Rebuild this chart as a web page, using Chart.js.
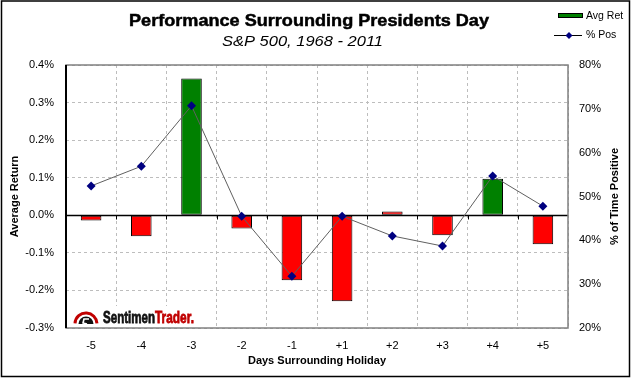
<!DOCTYPE html>
<html><head><meta charset="utf-8">
<script src="https://cdn.jsdelivr.net/npm/chart.js@4/dist/chart.umd.min.js"></script>
<style>html,body{margin:0;padding:0;background:#fff;}#wrap{width:631px;height:379px;}</style>
</head><body><div id="wrap"><canvas id="c" width="631" height="379"></canvas></div>
<script>
const days = ['-5','-4','-3','-2','-1','+1','+2','+3','+4','+5'];
const avgRet = [-0.014,-0.056,0.364,-0.035,-0.173,-0.229,0.010,-0.053,0.097,-0.077];
const pctPos = [52.4,56.9,70.7,45.5,31.8,45.5,41.0,38.7,54.7,47.8];
const titleText = 'Performance Surrounding Presidents Day';
const subtitleText = 'S&P 500, 1968 - 2011';
const xTitle = 'Days Surrounding Holiday';
const yTitle = 'Average Return';
const y1Title = '% of Time Positive';
const legendBar = 'Avg Ret';
const legendLine = '% Pos';

// bar colours as shown in the picture (green / red per bar)
const GREEN = '#008000', RED = '#ff0000';
const barColors = [RED, RED, GREEN, RED, RED, RED, RED, RED, GREEN, RED];

const FONT = '"Liberation Sans", Arial, sans-serif';

function fitText(ctx, txt, x, y, w, stroke) {
  const m = ctx.measureText(txt).width;
  ctx.save();
  ctx.translate(x, y);
  ctx.scale(w / m, 1);
  ctx.fillText(txt, 0, 0);
  if (stroke) { ctx.lineWidth = stroke; ctx.strokeStyle = ctx.fillStyle; ctx.strokeText(txt, 0, 0); }
  ctx.restore();
}

const deco = {
  id: 'deco',
  beforeDraw(chart) {
    const ctx = chart.ctx;
    ctx.save();
    ctx.fillStyle = '#fff';
    ctx.fillRect(0, 0, chart.width, chart.height);
    ctx.restore();
  },
  beforeDatasetsDraw(chart) {
    const ctx = chart.ctx, a = chart.chartArea;
    const x = chart.scales.x, y = chart.scales.y;
    const y0 = Math.round(y.getPixelForValue(0)) + 0.5;
    ctx.save();
    ctx.fillStyle = '#fff';
    ctx.fillRect(a.left + 3, a.bottom - 22, 128, 21);
    drawLogo(ctx, a.left + 7, a.bottom - 2);
    ctx.strokeStyle = '#000';
    ctx.lineWidth = 1.5;
    ctx.beginPath();
    ctx.moveTo(a.left, y0); ctx.lineTo(a.right, y0);
    ctx.stroke();
    ctx.lineWidth = 1;
    ctx.beginPath();
    for (let i = 0; i < days.length - 1; i++) {
      const bx = Math.round((x.getPixelForValue(i) + x.getPixelForValue(i + 1)) / 2) + 0.5;
      ctx.moveTo(bx, y0); ctx.lineTo(bx, y0 + 4);
    }
    ctx.stroke();
    ctx.restore();
  },
  afterDraw(chart) {
    const ctx = chart.ctx, a = chart.chartArea;
    ctx.save();
    ctx.strokeStyle = '#808080';
    ctx.lineWidth = 1.5;
    ctx.strokeRect(a.left, a.top, a.right - a.left, a.bottom - a.top);
    ctx.strokeStyle = '#000';
    ctx.lineWidth = 2;
    ctx.beginPath(); ctx.moveTo(a.left, a.top); ctx.lineTo(a.left, a.bottom); ctx.stroke();
    ctx.lineWidth = 1.5;
    ctx.strokeRect(1.5, 1, 628, 375.5);
    ctx.fillStyle = '#000';
    ctx.textBaseline = 'alphabetic';
    ctx.font = 'bold 17px ' + FONT;
    fitText(ctx, titleText, 129, 26, 360, 0.5);
    ctx.font = 'italic 15px ' + FONT;
    fitText(ctx, subtitleText, 222, 46, 161);
    ctx.font = 'bold 11px ' + FONT;
    ctx.textAlign = 'center';
    ctx.textBaseline = 'middle';
    ctx.fillText(xTitle, (a.left + a.right) / 2, 361);
    ctx.save();
    ctx.translate(15, (a.top + a.bottom) / 2);
    ctx.rotate(-Math.PI / 2);
    ctx.fillText(yTitle, 0, 0);
    ctx.restore();
    ctx.save();
    ctx.translate(615, (a.top + a.bottom) / 2);
    ctx.rotate(-Math.PI / 2);
    ctx.fillText(y1Title, 0, 0);
    ctx.restore();
    ctx.fillStyle = GREEN;
    ctx.strokeStyle = '#000';
    ctx.lineWidth = 1;
    ctx.fillRect(558.5, 13.5, 24, 4);
    ctx.strokeRect(558.5, 13.5, 24, 4);
    ctx.beginPath(); ctx.moveTo(554, 35.5); ctx.lineTo(582, 35.5); ctx.stroke();
    ctx.fillStyle = '#000080';
    ctx.beginPath();
    ctx.moveTo(569, 32); ctx.lineTo(572.5, 35.5); ctx.lineTo(569, 39); ctx.lineTo(565.5, 35.5); ctx.closePath(); ctx.fill();
    ctx.fillStyle = '#000';
    ctx.textAlign = 'left';
    ctx.font = '10.5px ' + FONT;
    ctx.fillText(legendBar, 586, 16);
    ctx.fillText(legendLine, 586, 35.5);
    ctx.restore();
  }
};

function drawLogo(ctx, x, by) {
  const cx = x + 13, cy = by - 2;
  ctx.save();
  ctx.strokeStyle = '#c00000';
  ctx.lineWidth = 3;
  ctx.beginPath(); ctx.arc(cx, cy, 11, Math.PI * 1.02, Math.PI * 1.98); ctx.stroke();
  ctx.fillStyle = '#111';
  ctx.beginPath(); ctx.arc(cx, cy, 7.5, Math.PI, 2 * Math.PI); ctx.closePath(); ctx.fill();
  ctx.strokeStyle = '#fff';
  ctx.lineWidth = 1.6;
  ctx.beginPath();
  ctx.moveTo(cx + 3, cy - 5); ctx.lineTo(cx - 2, cy - 5); ctx.lineTo(cx - 3, cy - 1); ctx.lineTo(cx + 1, cy);
  ctx.stroke();
  ctx.fillStyle = '#111';
  ctx.textBaseline = 'alphabetic';
  ctx.font = 'bold 17px ' + FONT;
  fitText(ctx, 'Sentimen', x + 30, by - 3, 52, 0.8);
  ctx.fillStyle = '#c00000';
  fitText(ctx, 'Trader.', x + 82, by - 3, 39, 0.8);
  ctx.restore();
}

new Chart(document.getElementById('c'), {
  data: {
    labels: days,
    datasets: [
      {
        type: 'line', label: legendLine, data: pctPos, yAxisID: 'y1', order: 0,
        borderColor: '#606060', borderWidth: 1, tension: 0,
        pointStyle: 'rectRot', pointRadius: 4.5, pointBackgroundColor: '#000080',
        pointBorderColor: '#000080', pointBorderWidth: 0
      },
      {
        type: 'bar', label: legendBar, data: avgRet, yAxisID: 'y', order: 1,
        backgroundColor: barColors,
        borderColor: '#000', borderWidth: 1, borderSkipped: false,
        barPercentage: 0.41, categoryPercentage: 1
      }
    ]
  },
  options: {
    responsive: false, animation: false, devicePixelRatio: 1,
    layout: { padding: { top: 65, left: 0, right: 0, bottom: 0 } },
    plugins: { legend: { display: false }, tooltip: { enabled: false } },
    scales: {
      x: {
        type: 'category', offset: true,
        grid: { offset: true, drawTicks: false, color: '#bdbdbd', lineWidth: 1 },
        border: { display: false, dash: [3, 3] },
        ticks: { color: '#000', font: { family: FONT, size: 11 }, padding: 11, maxRotation: 0 },
        afterFit(s) { s.height = 51; }
      },
      y: {
        position: 'left', min: -0.3, max: 0.4,
        grid: { drawTicks: false, color: '#bdbdbd', lineWidth: 1 },
        border: { display: false, dash: [3, 3] },
        ticks: { stepSize: 0.1, color: '#000', font: { family: FONT, size: 11 }, padding: 12,
          callback: v => (Math.round(v * 10) / 10).toFixed(1) + '%' },
        afterFit(s) { s.width = 66; }
      },
      y1: {
        position: 'right', min: 20, max: 80,
        grid: { display: false, drawTicks: false },
        border: { display: false },
        ticks: { stepSize: 10, color: '#000', font: { family: FONT, size: 11 }, padding: 11,
          callback: v => v + '%' },
        afterFit(s) { s.width = 63; }
      }
    }
  },
  plugins: [deco]
});
</script>
</body></html>
